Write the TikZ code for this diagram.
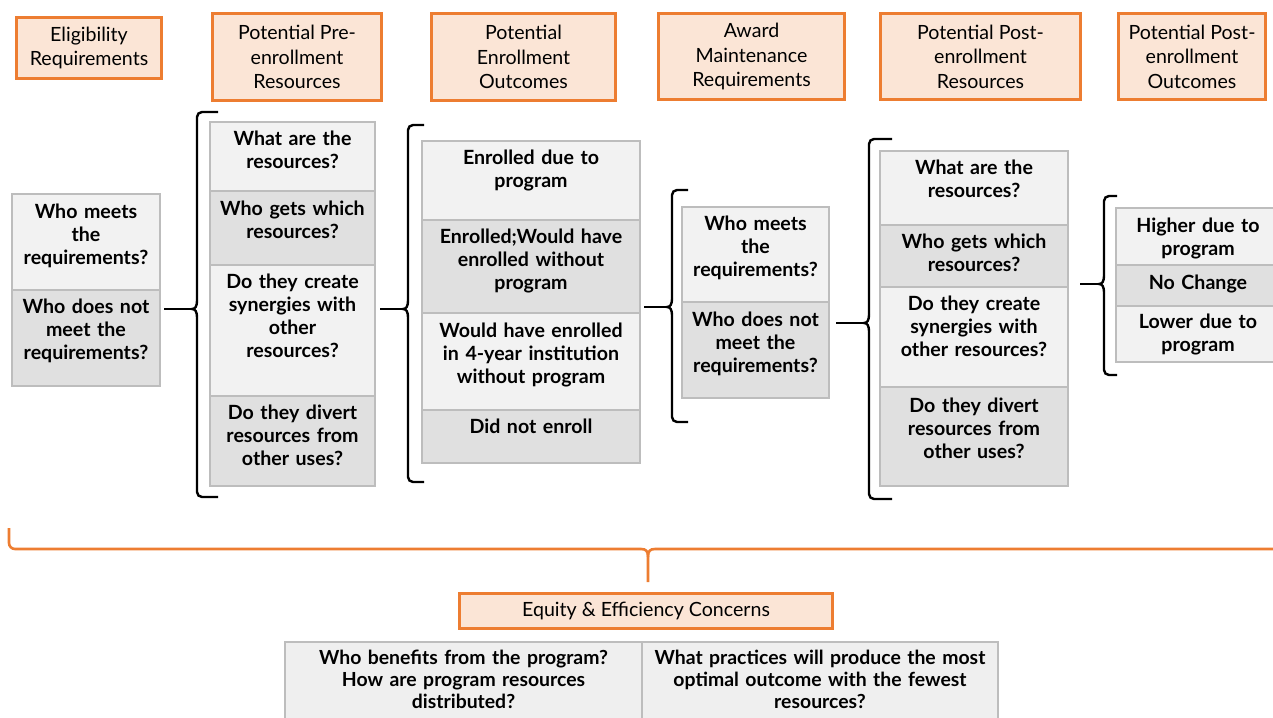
\documentclass[tikz,border=0pt]{standalone}
\usepackage{fontspec}
\setmainfont{Lato}
\definecolor{org}{HTML}{ED7D31}
\definecolor{peach}{HTML}{FBE5D6}
\definecolor{cl}{HTML}{F2F2F2}
\definecolor{cd}{HTML}{E0E0E0}
\definecolor{cb}{HTML}{BDBDBD}
\definecolor{bt}{HTML}{EFEFEF}
\tikzset{
  hdr/.style={draw=org, line width=1.5pt, fill=peach, align=center, inner sep=0pt,
    font=\fontsize{9.8}{12.3}\selectfont},
  cellL/.style={draw=cb, line width=0.6pt, fill=cl, inner sep=0pt},
  cellD/.style={draw=cb, line width=0.6pt, fill=cd, inner sep=0pt},
  cellB/.style={draw=cb, line width=0.6pt, fill=bt, inner sep=0pt},
  celltext/.style={align=center, text width=120pt, anchor=base, inner sep=0pt,
    font=\bfseries\fontsize{9.8}{11.5}\selectfont},
  bottext/.style={align=center, text width=180pt, anchor=base, inner sep=0pt,
    font=\bfseries\fontsize{9.7}{11}\selectfont},
  brc/.style={draw=black, line width=1.2pt},
  conn/.style={draw=black, line width=1.2pt},
  obrc/.style={draw=org, line width=1.3pt}
}
% name, style, x1, y1, x2, y2, first line centre y, text
\newcommand{\cellbox}[8]{%
  \node[#2, minimum width={(#5-#3)*0.5pt}, minimum height={(#6-#4)*0.5pt}] (#1) at ({(#3+#5)/2},{(#4+#6)/2}) {};
  \node[celltext] (#1t) at ({(#3+#5)/2},{#7+6}) {#8};
}
% xv, xe, top, bottom, mid
\newcommand{\mybrace}[5]{%
  \draw[brc, rounded corners=2.5pt] (#2,#3) -- (#1,#3) -- (#1,{#5-9});
  \draw[brc] (#1,{#5-9}) .. controls (#1,{#5-2}) and ({#1-2},#5) .. ({#1-5},#5)
     .. controls ({#1-2},#5) and (#1,{#5+2}) .. (#1,{#5+9});
  \draw[brc, rounded corners=2.5pt] (#1,{#5+9}) -- (#1,#4) -- (#2,#4);
}
\begin{document}
\begin{tikzpicture}[x=0.5pt, y=-0.5pt]
\useasboundingbox (0,0) rectangle (1273,717);
\clip (0,0) rectangle (1273,717);

% headers
\node[hdr, minimum width=72.5pt, minimum height=30.5pt] (h1) at (89,48) {Eligibility\\Requirements};
\node[hdr, minimum width=84.5pt, minimum height=43.5pt] (h2) at (297,57) {Potential Pre-\\enrollment\\Resources};
\node[hdr, minimum width=92pt, minimum height=43.5pt] (h3) at (523.5,57) {Potential\\Enrollment\\Outcomes};
\node[hdr, minimum width=93pt, minimum height=43pt] (h4) at (751.5,56.5) {Award\\Maintenance\\Requirements};
\node[hdr, minimum width=100pt, minimum height=43pt] (h5) at (980.5,56.5) {Potential Post-\\enrollment\\Resources};
\node[hdr, minimum width=73.5pt, minimum height=43pt] (h6) at (1192,56.5) {Potential Post-\\enrollment\\Outcomes};

% column 1
\cellbox{c1a}{cellL}{12}{194}{160}{290}{212}{Who meets\\the\\requirements?}
\cellbox{c1b}{cellD}{12}{290}{160}{386}{307}{Who does not\\meet the\\requirements?}

% column 2
\cellbox{c2a}{cellL}{210}{122}{375}{191}{139}{What are the\\resources?}
\cellbox{c2b}{cellD}{210}{191}{375}{265}{209}{Who gets which\\resources?}
\cellbox{c2c}{cellL}{210}{265}{375}{396}{282}{Do they create\\synergies with\\other\\resources?}
\cellbox{c2d}{cellD}{210}{396}{375}{486}{413}{Do they divert\\resources from\\other uses?}

% column 3
\cellbox{c3a}{cellL}{422}{141}{640}{220}{158}{Enrolled due to\\program}
\cellbox{c3b}{cellD}{422}{220}{640}{313}{237}{Enrolled;Would have\\enrolled without\\program}
\cellbox{c3c}{cellL}{422}{313}{640}{410}{331}{Would have enrolled\\in 4-year institution\\without program}
\cellbox{c3d}{cellD}{422}{410}{640}{463}{427}{Did not enroll}

% column 4
\cellbox{c4a}{cellL}{682}{207}{829}{302}{224}{Who meets\\the\\requirements?}
\cellbox{c4b}{cellD}{682}{302}{829}{398}{320}{Who does not\\meet the\\requirements?}

% column 5
\cellbox{c5a}{cellL}{880}{151}{1068}{225}{168}{What are the\\resources?}
\cellbox{c5b}{cellD}{880}{225}{1068}{287}{242}{Who gets which\\resources?}
\cellbox{c5c}{cellL}{880}{287}{1068}{387}{304}{Do they create\\synergies with\\other resources?}
\cellbox{c5d}{cellD}{880}{387}{1068}{486}{406}{Do they divert\\resources from\\other uses?}

% column 6
\cellbox{c6a}{cellL}{1116}{208}{1280}{265}{226}{Higher due to\\program}
\cellbox{c6b}{cellD}{1116}{265}{1280}{306}{283}{No Change}
\cellbox{c6c}{cellL}{1116}{306}{1280}{362}{322}{Lower due to\\program}

% braces
\mybrace{197}{218}{112}{497}{309}
\mybrace{408}{424}{125}{482}{309}
\mybrace{672}{688}{190}{422}{307}
\mybrace{869}{892}{139}{499}{323}
\mybrace{1104}{1117}{196}{375}{284}

% connectors
\coordinate (s1) at (164,309); \coordinate (b1) at (192,309);
\coordinate (s2) at (380,309); \coordinate (b2) at (403,309);
\coordinate (s3) at (644,307); \coordinate (b3) at (667,307);
\coordinate (s4) at (836,323); \coordinate (b4) at (864,323);
\coordinate (s5) at (1080,284); \coordinate (b5) at (1099,284);
\draw[conn] (s1) -- (b1);
\draw[conn] (s2) -- (b2);
\draw[conn] (s3) -- (b3);
\draw[conn] (s4) -- (b4);
\draw[conn] (s5) -- (b5);

% bottom orange brace
\draw[obrc, rounded corners=3pt] (9,528) -- (9,549) -- (641,549);
\draw[obrc] (641,549) .. controls (646,549) and (648,551) .. (648,557) -- (648,582);
\draw[obrc] (1280,549) -- (655,549) .. controls (650,549) and (648,551) .. (648,557);
\coordinate (ob) at (648,582);

% equity
\node[hdr, minimum width=186.5pt, minimum height=17.5pt] (eq) at (646,611) {Equity \& Efficiency Concerns};

% bottom table
\node[cellB, minimum width=178.5pt, minimum height=45pt] (bl) at (463.5,687) {};
\node[cellB, minimum width=178pt, minimum height=45pt] (br) at (820,687) {};
\node[bottext] (blt) at (463.5,664.5) {Who benefits from the program?\\How are program resources\\distributed?};
\node[bottext] (brt) at (820,664.5) {What practices will produce the most\\optimal outcome with the fewest\\resources?};
\end{tikzpicture}
\end{document}
